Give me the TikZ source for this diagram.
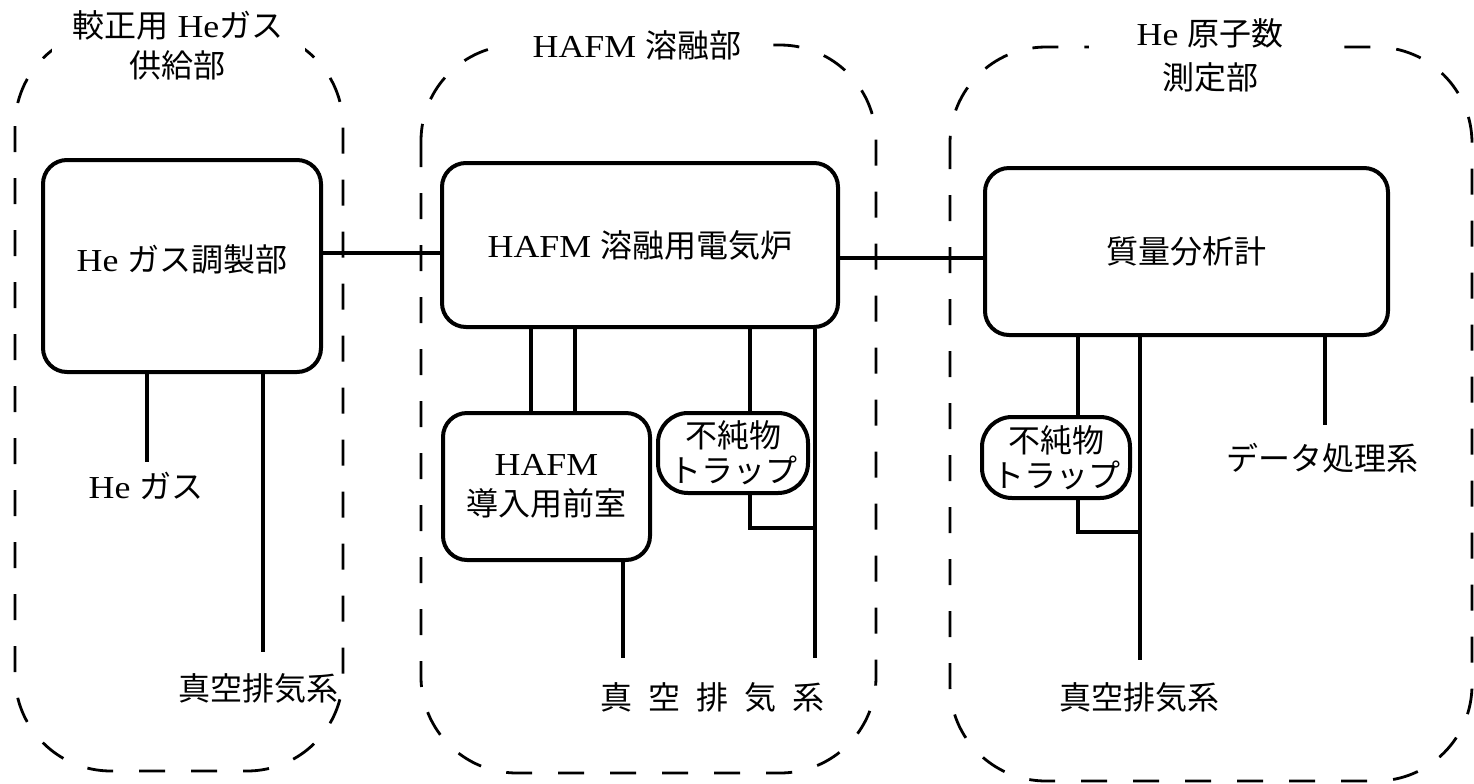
\documentclass[tikz,border=0pt]{standalone}
\usepackage{fontspec}
\setmainfont[FakeStretch=1.12]{Liberation Serif}
\newfontfamily\jp{Noto Sans CJK JP}
\begin{document}
\begin{tikzpicture}[x=0.5pt,y=-0.5pt,
  grp/.style={draw, line width=1.4pt, dash pattern=on 13pt off 13pt, rounded corners=48pt},
  unit/.style={draw, line width=2pt, rounded corners=12pt, inner sep=0pt,
    align=center, font=\fontsize{16}{20}\selectfont},
  trapbox/.style={unit, rounded corners=15pt, font=\fontsize{16}{17.5}\selectfont},
  conn/.style={line width=1.8pt},
  lbl/.style={inner sep=0pt, align=center, font=\fontsize{16}{20}\selectfont},
  ttl/.style={fill=white, inner xsep=0pt, inner ysep=3pt, align=center}
]
\useasboundingbox (0,0) rectangle (1474,783);
\fill[white] (0,0) rectangle (1474,783);

% groups
\draw[grp] (15,30) rectangle (343,771);
\draw[grp] (421,45) rectangle (876,773);
\draw[grp] (950,47) rectangle (1472,781);

% titles
\node[ttl, minimum width=126.5pt, font=\fontsize{16}{20}\selectfont] (tA) at (178,45)
  {{\jp 較正用} He{\jp ガス}\\{\jp 供給部}};
\node[ttl, minimum width=125.5pt, font=\fontsize{16}{20}\selectfont] (tB) at (637,45)
  {HAFM {\jp 溶融部}};
\node[ttl, minimum width=121.5pt, font=\fontsize{16}{22}\selectfont] (tC) at (1210,55)
  {He {\jp 原子数}\\{\jp 測定部}};

% units
\node[unit, minimum width=139pt, minimum height=106pt] (prep) at (182,266)
  {\raisebox{7.5pt}{He {\jp ガス調製部}}};
\node[unit, minimum width=198pt, minimum height=82pt] (furn) at (640,245)
  {\raisebox{-4pt}{HAFM {\jp 溶融用電気炉}}};
\node[unit, minimum width=201.5pt, minimum height=83.5pt] (ms) at (1186.5,251.5)
  {\jp 質量分析計};
\node[unit, minimum width=103.5pt, minimum height=73.5pt] (pre) at (546.5,486.5)
  {HAFM\\{\jp 導入用前室}};
\node[trapbox, minimum width=75pt, minimum height=40pt] (trap1) at (733,453)
  {{\jp 不純物}\\{\jp トラップ}};
\node[trapbox, minimum width=74pt, minimum height=40.5pt] (trap2) at (1056,457.5)
  {{\jp 不純物}\\{\jp トラップ}};

% helper coordinates
\coordinate (yA) at (0,253);
\coordinate (yB) at (0,258);
\coordinate (hgE) at (147,462);
\coordinate (v1E) at (263,652);
\coordinate (a1) at (531,0);
\coordinate (a2) at (575,0);
\coordinate (t1) at (750,0);
\coordinate (v2E) at (623,658);
\coordinate (v3E) at (815,658);
\coordinate (j1) at (815,528);
\coordinate (t2) at (1078,0);
\coordinate (v4E) at (1140,660);
\coordinate (j2) at (1140,532);
\coordinate (dE) at (1325,425);

% connectors
\draw[conn] (prep.east |- yA) -- (furn.west |- yA);
\draw[conn] (furn.east |- yB) -- (ms.west |- yB);

\draw[conn] (hgE |- prep.south) -- (hgE);
\draw[conn] (v1E |- prep.south) -- (v1E);

\draw[conn] (a1 |- furn.south) -- (a1 |- pre.north);
\draw[conn] (a2 |- furn.south) -- (a2 |- pre.north);
\draw[conn] (t1 |- furn.south) -- (t1 |- trap1.north);
\draw[conn] (v2E |- pre.south) -- (v2E);
\draw[conn] (v3E |- furn.south) -- (v3E);
\draw[conn] (t1 |- trap1.south) |- (j1);

\draw[conn] (t2 |- ms.south) -- (t2 |- trap2.north);
\draw[conn] (v4E |- ms.south) -- (v4E);
\draw[conn] (t2 |- trap2.south) |- (j2);
\draw[conn] (dE |- ms.south) -- (dE);

% free labels
\node[lbl] (hglbl) at (146,486) {He {\jp ガス}};
\node[lbl] (vac1) at (258,688) {\jp 真空排気系};
\node[lbl] (vac2) at (712,697) {\jp 真\hspace{8pt}空\hspace{8pt}排\hspace{8pt}気\hspace{8pt}系};
\node[lbl] (vac3) at (1139,697) {\jp 真空排気系};
\node[lbl] (data) at (1322,458) {\jp データ処理系};
\end{tikzpicture}
\end{document}
